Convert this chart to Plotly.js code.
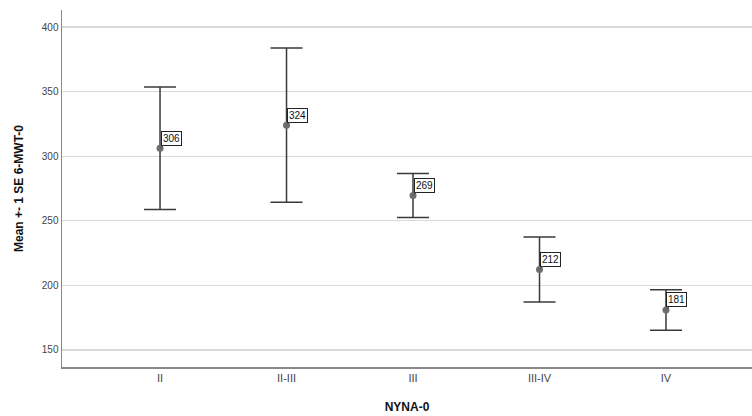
<!DOCTYPE html>
<html>
<head>
<meta charset="utf-8">
<script src="https://cdn.plot.ly/plotly-3.0.1.min.js"></script>
<style>html,body{margin:0;padding:0;background:#fff;}#chart{width:752px;height:416px;}</style>
</head>
<body>
<div id="chart"></div>
<script>
var categories = ["II", "II-III", "III", "III-IV", "IV"];
var means = [306.2, 324.0, 269.6, 212.3, 181.0];
var se = [47.4, 59.7, 17.0, 25.1, 15.7];
var meanLabels = ["306", "324", "269", "212", "181"];
var yTicks = [150, 200, 250, 300, 350, 400];

var xIdx = categories.map(function(c, i){ return i; });

var trace = {
  type: "scatter",
  mode: "markers",
  x: xIdx,
  y: means,
  marker: {color: "#6e6e6e", size: 7},
  error_y: {type: "data", array: se, visible: true, color: "#3a3a3a", thickness: 1.5, width: 16},
  hoverinfo: "none",
  showlegend: false
};

var annotations = xIdx.map(function(i){
  return {
    x: i, y: means[i], xref: "x", yref: "y",
    text: meanLabels[i],
    showarrow: true, arrowhead: 0, arrowwidth: 1, arrowcolor: "#555",
    ax: 11, ay: -10, standoff: 0, startstandoff: 0,
    bgcolor: "#ffffff", bordercolor: "#222", borderwidth: 1, borderpad: 1,
    font: {family: "Liberation Sans, Arial, sans-serif", size: 10, color: "#111"}
  };
});

var layout = {
  width: 752, height: 416,
  margin: {l: 62, r: 0, t: 10, b: 49},
  paper_bgcolor: "#fff", plot_bgcolor: "#fff",
  font: {family: "Liberation Sans, Arial, sans-serif", color: "#333"},
  xaxis: {
    range: [-0.775, 4.68],
    tickmode: "array", tickvals: xIdx, ticktext: categories,
    showgrid: false, zeroline: false,
    showline: true, linecolor: "#888", linewidth: 1.5,
    ticks: "", tickfont: {size: 11, color: "#444"},
    title: {text: "<b>NYNA-0</b>", font: {size: 12, color: "#111"}, standoff: 20}
  },
  yaxis: {
    range: [136.8, 413.2],
    tickmode: "array", tickvals: yTicks,
    showgrid: true, gridcolor: "#d9d9d9", gridwidth: 1.2,
    zeroline: false, showline: true, linecolor: "#888", linewidth: 1.5,
    ticks: "", tickfont: {size: 10, color: "#444"},
    title: {text: "<b>Mean +- 1 SE 6-MWT-0</b>", font: {size: 12, color: "#111"}, standoff: 15}
  },
  annotations: annotations
};

Plotly.newPlot("chart", [trace], layout, {displayModeBar: false, staticPlot: true});
</script>
</body>
</html>
